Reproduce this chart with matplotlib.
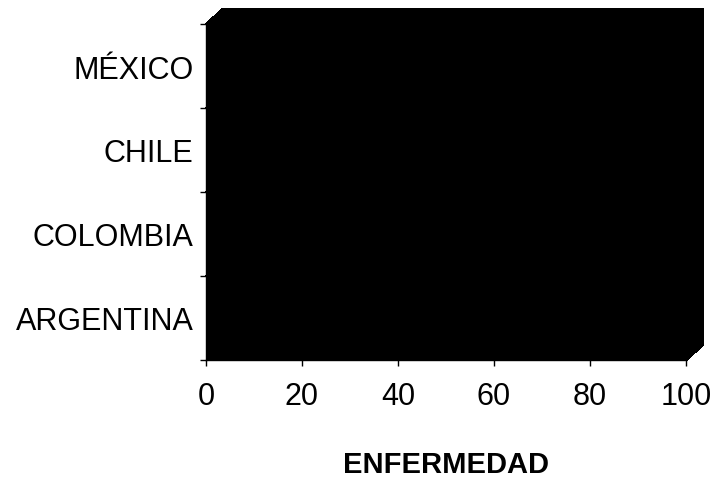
import matplotlib
matplotlib.use("Agg")
import matplotlib.pyplot as plt
from matplotlib.patches import Polygon
import numpy as np

# Countries listed bottom to top, and their share (%)
countries = ["ARGENTINA", "COLOMBIA", "CHILE", "MÉXICO"]
enfermedad = [100, 100, 100, 100]
x_ticks = [0, 20, 40, 60, 80, 100]

plt.rcParams["font.family"] = ["Liberation Sans", "DejaVu Sans"]

fig = plt.figure(figsize=(7.12, 4.81), dpi=100)
fig.patch.set_facecolor("white")
ax = fig.add_axes([206 / 712, 120 / 481, 480 / 712, 336 / 481])

y = np.arange(len(countries))
bars = ax.barh(y, enfermedad, height=1.0, color="black", edgecolor="black",
               linewidth=1.0, antialiased=False)

ax.set_xlim(0, 100)
ax.set_ylim(-0.5, len(countries) - 0.5)

# Depth of the 3D effect, in data units
dx = 17 / 480 * 100
dy = 15 / 336 * len(countries)
for yi, v in zip(y, enfermedad):
    y0, y1 = yi - 0.5, yi + 0.5
    side = Polygon([(v, y0), (v + dx, y0 + dy), (v + dx, y1 + dy), (v, y1)],
                   closed=True, facecolor="black", edgecolor="black", lw=1.0,
                   antialiased=False, clip_on=False)
    top = Polygon([(0, y1), (dx, y1 + dy), (v + dx, y1 + dy), (v, y1)],
                  closed=True, facecolor="black", edgecolor="black", lw=1.0,
                  antialiased=False, clip_on=False)
    ax.add_patch(side)
    ax.add_patch(top)

for s in ["top", "right"]:
    ax.spines[s].set_visible(False)
for s in ["left", "bottom"]:
    ax.spines[s].set_color("black")
    ax.spines[s].set_linewidth(1.0)

ax.set_yticks(y)
ax.set_yticklabels(countries, fontsize=22)
ax.set_yticks(np.arange(-0.5, len(countries)), minor=True)
ax.tick_params(axis="y", which="major", length=0, pad=9)
ax.tick_params(axis="y", which="minor", length=4, width=1, color="black", direction="out")

ax.set_xticks(x_ticks)
ax.set_xticklabels([str(t) for t in x_ticks], fontsize=22)
ax.tick_params(axis="x", which="major", length=4, width=1, direction="out", pad=11)

ax.set_xlabel("ENFERMEDAD", fontsize=21, fontweight="bold", labelpad=28)

fig.savefig("out.png", dpi=100, facecolor="white")
